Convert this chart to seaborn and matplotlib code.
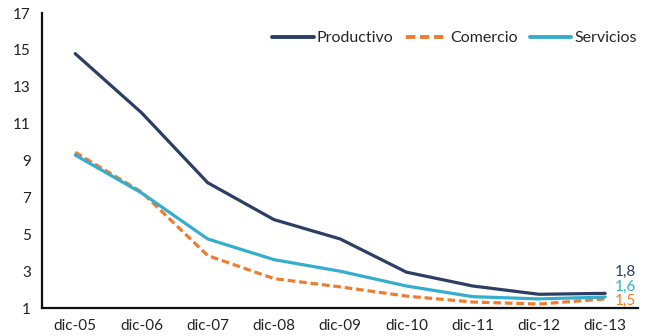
import matplotlib
matplotlib.use("Agg")
import matplotlib.pyplot as plt
import seaborn as sns
import pandas as pd

periodos = ["dic-05", "dic-06", "dic-07", "dic-08", "dic-09", "dic-10", "dic-11", "dic-12", "dic-13"]
productivo = [14.8, 11.6, 7.8, 5.8, 4.75, 2.95, 2.2, 1.75, 1.8]
comercio = [9.45, 7.3, 3.85, 2.6, 2.15, 1.65, 1.33, 1.22, 1.5]
servicios = [9.3, 7.25, 4.75, 3.63, 3.0, 2.2, 1.62, 1.5, 1.6]
series = ["Productivo", "Comercio", "Servicios"]
colores = {"Productivo": "#2C3E63", "Comercio": "#EE7D31", "Servicios": "#35AECD"}
etiquetas_finales = {"Productivo": "1,8", "Servicios": "1,6", "Comercio": "1,5"}
yticks = [1, 3, 5, 7, 9, 11, 13, 15, 17]

df = pd.DataFrame({
    "x": list(range(len(periodos))) * 3,
    "valor": productivo + comercio + servicios,
    "serie": [s for s in series for _ in periodos],
})

sns.set_style("white")
plt.rcParams["font.family"] = ["Lato", "DejaVu Sans"]

fig = plt.figure(figsize=(6.48, 3.36), dpi=100)
ax = fig.add_axes([0.065, 0.083, 0.92, 0.878])

sns.lineplot(
    data=df, x="x", y="valor", hue="serie", style="serie",
    palette=colores, hue_order=series, style_order=series,
    dashes={"Productivo": "", "Comercio": (2.4, 1.2), "Servicios": ""},
    linewidth=2.3, ax=ax, legend=True,
)

ax.set_xlim(-0.5, len(periodos) - 0.5)
ax.set_ylim(1, 17)
ax.set_yticks(yticks)
ax.set_yticklabels([str(v) for v in yticks], fontsize=11, color="#222222")
ax.set_xticks(range(len(periodos)))
ax.set_xticklabels(periodos, fontsize=11, color="#222222")
ax.set_xticks([i - 0.5 for i in range(len(periodos) + 1)], minor=True)
ax.tick_params(axis="x", which="major", length=0, pad=8)
ax.tick_params(axis="x", which="minor", length=4, width=1.5, color="#111111", direction="out")
ax.tick_params(axis="y", length=5, width=1.5, color="#111111", direction="out", pad=3)
ax.set_xlabel("")
ax.set_ylabel("")

for s in ["top", "right"]:
    ax.spines[s].set_visible(False)
for s in ["left", "bottom"]:
    ax.spines[s].set_color("#111111")
    ax.spines[s].set_linewidth(1.6)

# value labels at the last point
offsets = {"Productivo": 2.95, "Servicios": 2.15, "Comercio": 1.38}
for s in series:
    ax.text(len(periodos) - 1 + 0.15, offsets[s], etiquetas_finales[s],
            color=colores[s], fontsize=11, ha="left", va="center", clip_on=False)

leg = ax.legend(loc="center right", bbox_to_anchor=(0.998, 0.915), ncol=3, frameon=False,
                fontsize=11.5, handlelength=2.6, handletextpad=0.2, columnspacing=0.75,
                borderaxespad=0, borderpad=0)
for h in leg.get_lines():
    h.set_linewidth(2.8)

fig.savefig("out.png", dpi=100)
